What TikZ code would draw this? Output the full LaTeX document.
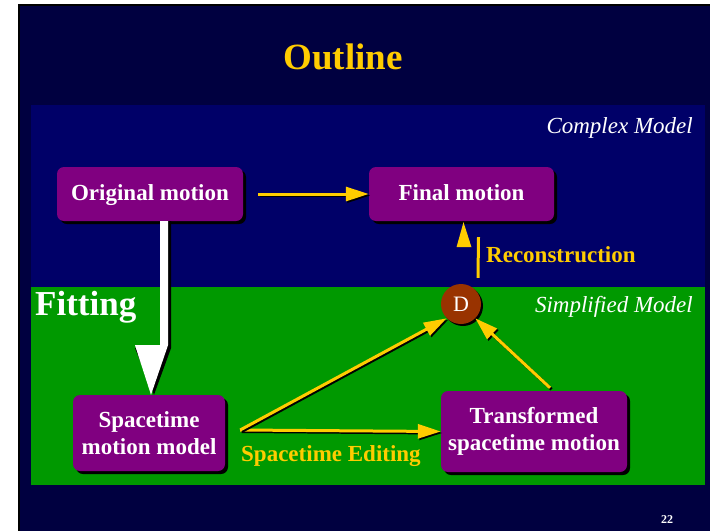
\documentclass[tikz,border=0pt]{standalone}
\usepackage{fontspec}
\setmainfont{Liberation Serif}
\usetikzlibrary{positioning,calc,shadows,arrows.meta}

\definecolor{slidebg}{RGB}{0,0,64}
\definecolor{panelblue}{RGB}{0,0,104}
\definecolor{panelgreen}{RGB}{0,153,0}
\definecolor{boxpurple}{RGB}{128,0,128}
\definecolor{dbrown}{RGB}{153,51,0}
\definecolor{gold}{RGB}{255,204,0}

\begin{document}
\begin{tikzpicture}[
    x=1pt, y=-1pt,
    box/.style={fill=boxpurple,rounded corners=7pt,text=white,align=center,
      font=\fontsize{23}{27}\selectfont\bfseries,
      drop shadow={shadow xshift=3pt,shadow yshift=-3pt,fill=black,opacity=1}},
    conn/.style={draw=gold,line width=3pt,-{Triangle[length=23pt,width=14pt]},
      preaction={draw=black,line width=3pt,transform canvas={xshift=1.5pt,yshift=-1.5pt}}},
    yline/.style={draw=gold,line width=3pt},
    label/.style={font=\fontsize{23}{27}\selectfont\bfseries,text=gold,inner sep=0pt},
    model/.style={font=\fontsize{23}{27}\selectfont\itshape,text=white,inner sep=0pt}
  ]
    % page and panels
    \useasboundingbox (0,0) rectangle (710,531);
    \fill[white] (0,0) rectangle (710,531);
    \fill[black] (18,4) rectangle (710,531);
    \fill[slidebg] (20,6) rectangle (710,531);
    \fill[panelblue] (31,105) rectangle (705,287);
    \fill[panelgreen] (31,287) rectangle (705,485);

    \node[font=\fontsize{37}{40}\selectfont\bfseries,text=gold] (title) at (343,57) {Outline};
    \node[model,anchor=east] (complex) at (693,128) {Complex Model};
    \node[model,anchor=east] (simple) at (693,307) {Simplified Model};
    \node[font=\fontsize{35}{38}\selectfont\bfseries,text=white,inner sep=0pt,anchor=west] (fitting) at (35,307) {Fitting};

    \node[box,minimum width=186pt,minimum height=54pt,text height=16pt,text depth=3pt] (orig) at (150,194) {Original motion};
    \node[box,minimum width=185pt,minimum height=54pt,text height=16pt,text depth=3pt] (final) at (461.5,194) {Final motion};
    \node[box,minimum width=152pt,minimum height=76pt] (stm) at (149,433) {Spacetime\\motion model};
    \node[box,minimum width=186pt,minimum height=81pt] (trans) at (534,431.5) {Transformed\\spacetime motion};
    \node[circle,fill=dbrown,text=white,minimum size=40pt,inner sep=0pt,
      font=\fontsize{22}{24}\selectfont,
      drop shadow={shadow xshift=2pt,shadow yshift=-2pt,fill=black,opacity=1}] (D) at (461,304) {D};

    % fitting arrow
    \fill[black] ($(orig.south)+(13,0)$) -- ++(0,127) -- ++(-28,0) -- ($(stm.north)+(5,0)$)
      -- ($(orig.south)+(21,127)$) -- ($(orig.south)+(21,0)$) -- cycle;
    \fill[white] ($(orig.south)+(10,0)$) -- ++(0,124) -- ++(-25,0) -- ($(stm.north)+(2,0)$)
      -- ($(orig.south)+(18,124)$) -- ($(orig.south)+(18,0)$) -- cycle;

    \draw[conn] ([xshift=15pt]orig.east) -- (final.west);
    \draw[conn] ($(stm.east)+(15,-3)$) -- (trans.west);
    \draw[conn] ($(stm.east)+(15,-3)$) -- (D.225);
    \draw[conn] ($(trans.north)+(16,-3)$) -- (D.315);

    % reconstruction
    \draw[yline] ($(D.north)+(17,-6)$) -- ($(final.south)+(17,16)$);
    \fill[gold] ($(final.south)+(2,1)$) -- ++(-7,25) -- ++(15,0) -- cycle;
    \node[label,anchor=west] (recon) at (486,255) {Reconstruction};
    \node[label,anchor=west] (edit) at (241,456) {Spacetime Editing};

    \node[font=\fontsize{12}{14}\selectfont\bfseries,text=white] (pagenum) at (667,520) {22};
  \end{tikzpicture}
\end{document}
